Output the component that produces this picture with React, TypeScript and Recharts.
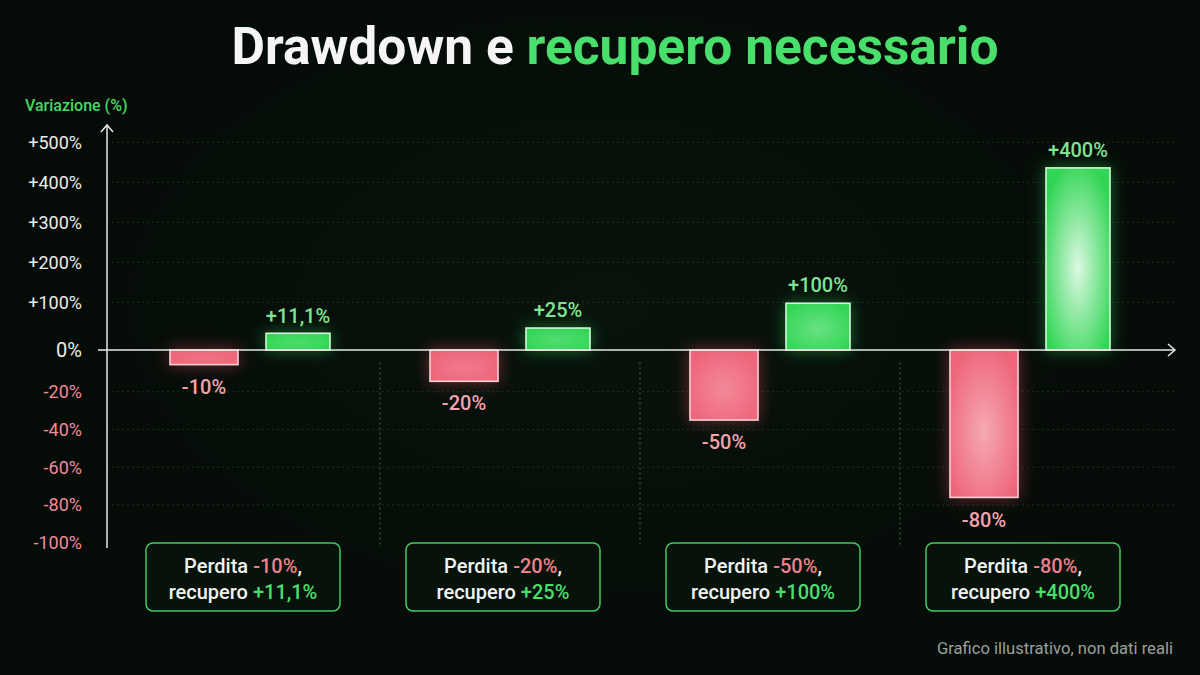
import React from "react";
import {
  BarChart,
  Bar,
  XAxis,
  YAxis,
  CartesianGrid,
  ReferenceLine,
  LabelList,
} from "recharts";

// scenarios: loss -> recovery needed
const lossLabels = ["-10%", "-20%", "-50%", "-80%"];
const gainLabels = ["+11,1%", "+25%", "+100%", "+400%"];
// bar lengths (the picture is illustrative, not to scale)
const lossBars = [-7, -15, -35, -76];
const gainBars = [35, 46, 98, 436];
const yTicks = [-100, -80, -60, -40, -20, 0, 100, 200, 300, 400, 500];

const FONT = "Roboto, 'Noto Sans', sans-serif";
const GREEN = "#4ade6c";
const PINK = "#ef8a9a";

// the axis is not linear: the loss side is stretched, the gain side compressed
const toAxis = (v: number) => {
  if (v >= 0) return v <= 100 ? v * 0.477 : 47.7 + (v - 100) * 0.4;
  const a = -v;
  return -(a <= 20 ? a * 2.085 : 41.7 + (a - 20) * 1.8875);
};

const rows = lossLabels.map((name, i) => ({
  name,
  loss: toAxis(lossBars[i]),
  gain: toAxis(gainBars[i]),
  lossLabel: lossLabels[i],
  gainLabel: gainLabels[i],
}));

const mix = (a: string, b: string, t: number) => {
  const pa = [1, 3, 5].map((k) => parseInt(a.slice(k, k + 2), 16));
  const pb = [1, 3, 5].map((k) => parseInt(b.slice(k, k + 2), 16));
  return (
    "#" +
    pa
      .map((c, i) => Math.round(c + (pb[i] - c) * t).toString(16).padStart(2, "0"))
      .join("")
  );
};

const makeBar = (kind: "loss" | "gain") => (props: any) => {
  const { x, y, width, height, index } = props;
  const top = Math.min(y, y + height);
  const h = Math.abs(height);
  const edge = kind === "loss" ? "#ee6579" : "#33d656";
  const glow = kind === "loss" ? "#f0485f" : "#2fd152";
  const stroke = kind === "loss" ? "#f9cfd5" : "#d2f6d9";
  const k = Math.min(1, h / 170);
  const center = mix(edge, "#ffffff", 0.05 + (kind === "loss" ? 0.45 : 0.78) * k);
  const gid = `g-${kind}-${index}`;
  const fid = `f-${kind}-${index}`;
  return (
    <g>
      <defs>
        <radialGradient id={gid} cx="0.5" cy="0.55" r="0.6">
          <stop offset="0%" stopColor={center} />
          <stop offset="100%" stopColor={edge} />
        </radialGradient>
        <filter
          id={fid}
          filterUnits="userSpaceOnUse"
          x={x - 40}
          y={top - 40}
          width={width + 80}
          height={h + 80}
        >
          <feDropShadow dx="0" dy="0" stdDeviation="8" floodColor={glow} floodOpacity="0.45" />
        </filter>
      </defs>
      <rect
        x={x}
        y={top}
        width={width}
        height={h}
        fill={`url(#${gid})`}
        stroke={stroke}
        strokeWidth={1.6}
        filter={`url(#${fid})`}
      />
    </g>
  );
};

const LossLabel = (p: any) => {
  const bottom = Math.max(p.y, p.y + p.height);
  return (
    <text
      x={p.x + p.width / 2}
      y={bottom + 22}
      dy="0.36em"
      textAnchor="middle"
      fill="#f4a3ae"
      fontFamily={FONT}
      fontSize={20}
      fontWeight={500}
    >
      {p.value}
    </text>
  );
};

const GainLabel = (p: any) => {
  const top = Math.min(p.y, p.y + p.height);
  return (
    <text
      x={p.x + p.width / 2}
      y={top - 18}
      dy="0.36em"
      textAnchor="middle"
      fill="#80e391"
      fontFamily={FONT}
      fontSize={20}
      fontWeight={500}
    >
      {p.value}
    </text>
  );
};

const YTick = (p: any) => {
  const v = yTicks.find((t) => Math.abs(toAxis(t) - p.payload.value) < 0.01) ?? 0;
  const label = v > 0 ? `+${v}%` : `${v}%`;
  return (
    <text
      x={p.x}
      y={p.y}
      dy="0.36em"
      textAnchor="end"
      fill={v < 0 ? PINK : "#e9ecea"}
      fontFamily={FONT}
      fontSize={v === 0 ? 20 : 18}
    >
      {label}
    </text>
  );
};

const BoxTick = (p: any) => {
  const i = p.index;
  const cx = p.x - 7;
  const w = 194;
  const top = p.y - 5;
  return (
    <g>
      <rect
        x={cx - w / 2}
        y={top}
        width={w}
        height={68}
        rx={7}
        fill="#07120a"
        stroke="#41cc5d"
        strokeWidth={1.5}
      />
      <text x={cx} y={top + 29.5} textAnchor="middle" fontFamily={FONT} fontSize={20} fontWeight={500}>
        <tspan fill="#f1f3f1">Perdita </tspan>
        <tspan fill="#f07f90">{lossLabels[i]}</tspan>
        <tspan fill="#f1f3f1">,</tspan>
      </text>
      <text x={cx} y={top + 56} textAnchor="middle" fontFamily={FONT} fontSize={20} fontWeight={500}>
        <tspan fill="#f1f3f1">recupero </tspan>
        <tspan fill={GREEN}>{gainLabels[i]}</tspan>
      </text>
    </g>
  );
};

const Y_MIN = -198;
const Y_MAX = 225;
const PAD = { left: 13, right: 15 };
const gridTicks = yTicks.filter((t) => t !== 0 && t !== -100).map(toAxis);

// zero line with arrow head, plus dashed separators between scenarios below it
const ZeroAxis = (p: any) => {
  const left = Math.min(p.x1, p.x2);
  const right = Math.max(p.x1, p.x2);
  const y0 = p.y1;
  const n = lossLabels.length;
  const band = (right - left - PAD.left - PAD.right) / n;
  const sepTop = y0 - toAxis(-6);
  const sepBottom = y0 - toAxis(-101);
  return (
    <g>
      {lossLabels.slice(1).map((_, i) => {
        const sx = left + PAD.left + band * (i + 1);
        return (
          <line
            key={i}
            x1={sx}
            x2={sx}
            y1={sepTop}
            y2={sepBottom}
            stroke="rgba(170,200,175,0.45)"
            strokeDasharray="2 3"
          />
        );
      })}
      <line x1={left - 9} y1={y0} x2={right} y2={y0} stroke="#e6ebe7" strokeWidth={1.5} />
      <path
        d={`M${right - 7},${y0 - 6} L${right},${y0} L${right - 7},${y0 + 6}`}
        fill="none"
        stroke="#e6ebe7"
        strokeWidth={1.5}
      />
    </g>
  );
};

export default function App() {
  return (
    <div
      style={{
        position: "relative",
        width: 1200,
        height: 675,
        background: "radial-gradient(ellipse at 50% 45%, #08130b 0%, #050b07 75%)",
        fontFamily: FONT,
        overflow: "hidden",
      }}
    >
      <style>{`body{margin:0;}`}</style>
      <div
        style={{
          position: "absolute",
          top: 17,
          left: 15,
          width: 1200,
          textAlign: "center",
          fontSize: 51.5,
          lineHeight: "60px",
          fontWeight: 700,
          color: "#f4f5f4",
        }}
      >
        Drawdown e <span style={{ color: GREEN }}>recupero necessario</span>
      </div>
      <div
        style={{
          position: "absolute",
          top: 96,
          left: 25,
          fontSize: 16,
          lineHeight: "20px",
          fontWeight: 500,
          color: "#45d862",
        }}
      >
        Variazione (%)
      </div>
      <div
        style={{
          position: "absolute",
          top: 639,
          right: 27,
          fontSize: 16.6,
          lineHeight: "20px",
          color: "#9aa09c",
        }}
      >
        Grafico illustrativo, non dati reali
      </div>
      <BarChart
        width={1200}
        height={675}
        data={rows}
        margin={{ top: 125, right: 25, bottom: 47, left: 47 }}
        barGap={28}
        style={{ position: "absolute", left: 0, top: 0 }}
      >
        <CartesianGrid
          vertical={false}
          horizontalValues={gridTicks}
          stroke="rgba(140,195,150,0.18)"
          strokeDasharray="2 3"
        />
        <XAxis
          dataKey="name"
          axisLine={false}
          tickLine={false}
          tickSize={0}
          tickMargin={0}
          height={80}
          interval={0}
          padding={PAD}
          tick={<BoxTick />}
        />
        <YAxis
          type="number"
          domain={[Y_MIN, Y_MAX]}
          allowDataOverflow
          ticks={yTicks.map(toAxis)}
          interval={0}
          width={60}
          tickLine={false}
          tickSize={0}
          tickMargin={25}
          axisLine={{ stroke: "#e6ebe7", strokeWidth: 1.5 }}
          tick={<YTick />}
        />
        <Bar dataKey="loss" barSize={68} isAnimationActive={false} shape={makeBar("loss")}>
          <LabelList dataKey="lossLabel" content={<LossLabel />} />
        </Bar>
        <Bar dataKey="gain" barSize={64} isAnimationActive={false} shape={makeBar("gain")}>
          <LabelList dataKey="gainLabel" content={<GainLabel />} />
        </Bar>
        <ReferenceLine y={0} ifOverflow="visible" shape={ZeroAxis} />
        <ReferenceLine
          y={Y_MAX}
          ifOverflow="visible"
          shape={(p: any) => {
            const x = Math.min(p.x1, p.x2);
            return (
              <path
                d={`M${x - 6},${p.y1 + 7} L${x},${p.y1} L${x + 6},${p.y1 + 7}`}
                fill="none"
                stroke="#e6ebe7"
                strokeWidth={1.5}
              />
            );
          }}
        />
      </BarChart>
    </div>
  );
}
